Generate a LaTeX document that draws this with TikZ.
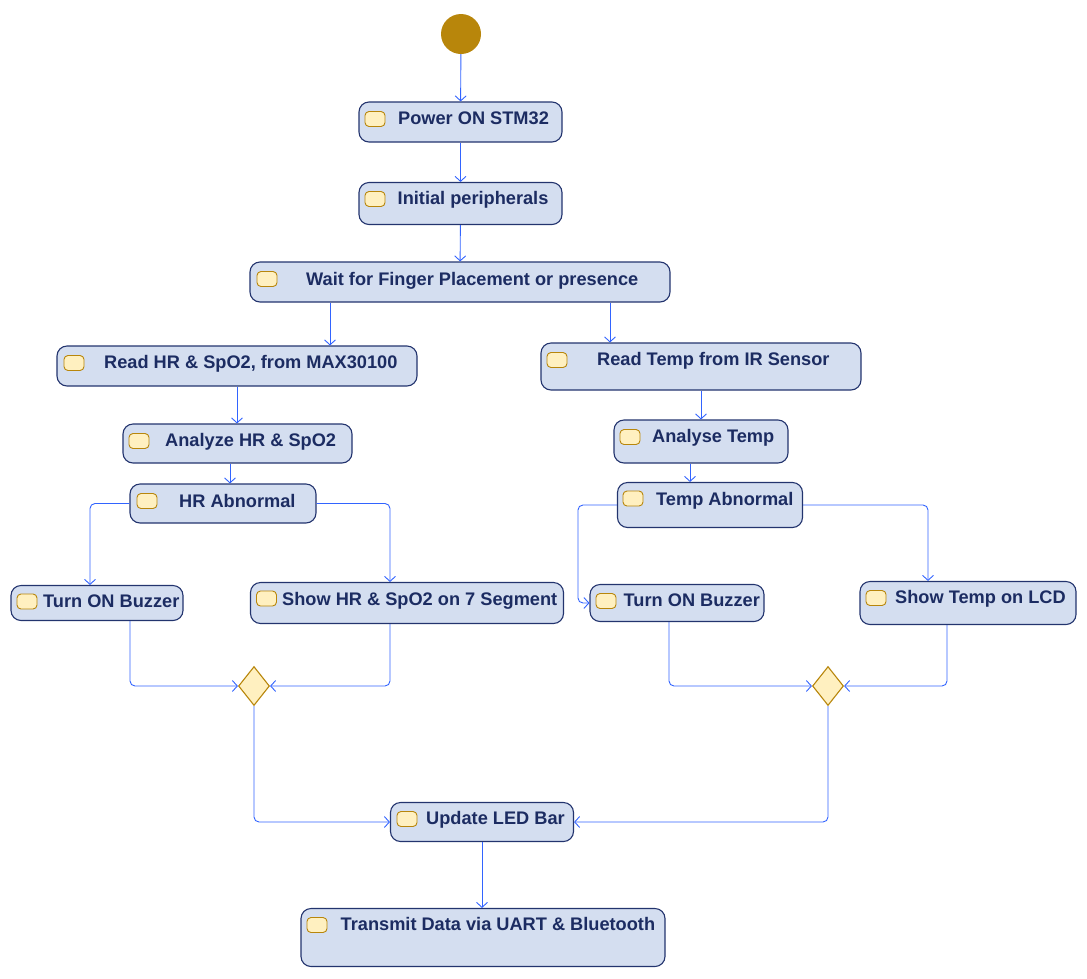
\documentclass[tikz,border=0pt]{standalone}
\usepackage{fontspec}
\setmainfont{Liberation Sans}
\usetikzlibrary{shapes.geometric,arrows.meta}
\definecolor{actfill}{RGB}{212,222,240}
\definecolor{actline}{RGB}{35,52,110}
\definecolor{acttext}{RGB}{28,44,98}
\definecolor{flowc}{RGB}{50,100,255}
\definecolor{gold}{RGB}{184,134,11}
\definecolor{iconfill}{RGB}{255,240,192}
\begin{document}
\begin{tikzpicture}[x=1pt,y=-1pt,
    act/.style={draw=actline, fill=actfill, line width=1.1pt, rounded corners=10pt, inner sep=0pt},
    icon/.style={draw=gold, fill=iconfill, line width=0.9pt, rounded corners=4pt, minimum width=20pt, minimum height=15pt, inner sep=0pt},
    txt/.style={anchor=base west, inner sep=0pt, text=acttext, font=\bfseries\fontsize{18.2}{21}\selectfont},
    merge/.style={diamond, draw=gold, fill=iconfill, line width=1.1pt, minimum width=31pt, minimum height=39pt, inner sep=0pt},
    flow/.style={draw=flowc, line width=0.9pt, rounded corners=5pt, -{Straight Barb[length=5pt,width=11pt]}}]
  \useasboundingbox (0,0) rectangle (1087,978);
  \node[circle, fill=gold, minimum size=40pt, inner sep=0pt] (start) at (461,34){};
  % activities
  \node[act, minimum width=203pt, minimum height=40pt] (power) at (460.5,122){};
  \node[icon] (power-i) at (375,119){};
  \node[txt] (power-t) at (398,124.5){Power ON STM32};
  \node[act, minimum width=203pt, minimum height=42pt] (init) at (460.5,203.5){};
  \node[icon] (init-i) at (375,199){};
  \node[txt] (init-t) at (397.5,204.5){Initial peripherals};
  \node[act, minimum width=420pt, minimum height=40pt] (wait) at (460,282){};
  \node[icon] (wait-i) at (267,279){};
  \node[txt] (wait-t) at (306,285){Wait for Finger Placement or presence};
  \node[act, minimum width=360pt, minimum height=40pt] (readhr) at (237,366){};
  \node[icon] (readhr-i) at (74,363){};
  \node[txt] (readhr-t) at (104,368){Read HR \& SpO2, from MAX30100};
  \node[act, minimum width=320pt, minimum height=47pt] (readt) at (701,366.5){};
  \node[icon] (readt-i) at (557,360){};
  \node[txt] (readt-t) at (597,365.5){Read Temp from IR Sensor};
  \node[act, minimum width=229pt, minimum height=39pt] (anahr) at (237.5,443.5){};
  \node[icon] (anahr-i) at (139,441){};
  \node[txt] (anahr-t) at (165,446.5){Analyze HR \& SpO2};
  \node[act, minimum width=174pt, minimum height=43pt] (anat) at (701,441.5){};
  \node[icon] (anat-i) at (630,437){};
  \node[txt] (anat-t) at (652,442.5){Analyse Temp};
  \node[act, minimum width=186pt, minimum height=39pt] (hrab) at (223,503.5){};
  \node[icon] (hrab-i) at (147,501){};
  \node[txt] (hrab-t) at (179,507){HR Abnormal};
  \node[act, minimum width=185pt, minimum height=45pt] (tempab) at (710,505){};
  \node[icon] (tempab-i) at (633,498.5){};
  \node[txt] (tempab-t) at (656,505){Temp Abnormal};
  \node[act, minimum width=172pt, minimum height=35pt] (buzl) at (97,603){};
  \node[icon] (buzl-i) at (27,601.5){};
  \node[txt] (buzl-t) at (43,607.5){Turn ON Buzzer};
  \node[act, minimum width=313pt, minimum height=41pt] (showhr) at (407,603){};
  \node[icon] (showhr-i) at (266.5,598.5){};
  \node[txt] (showhr-t) at (282,605){Show HR \& SpO2 on 7 Segment};
  \node[act, minimum width=174pt, minimum height=37pt] (buzr) at (677,603){};
  \node[icon] (buzr-i) at (606,601){};
  \node[txt] (buzr-t) at (623.5,606.5){Turn ON Buzzer};
  \node[act, minimum width=216pt, minimum height=43pt] (showlcd) at (968,603){};
  \node[icon] (showlcd-i) at (876,598){};
  \node[txt] (showlcd-t) at (895,603.5){Show Temp on LCD};
  \node[merge] (mergel) at (254,686){};
  \node[merge] (merger) at (828,686){};
  \node[act, minimum width=183pt, minimum height=39pt] (update) at (482,822){};
  \node[icon] (update-i) at (407,819){};
  \node[txt] (update-t) at (426,824.5){Update LED Bar};
  \node[act, minimum width=364pt, minimum height=58pt] (transmit) at (483,937.5){};
  \node[icon] (transmit-i) at (317,925){};
  \node[txt] (transmit-t) at (340.5,930.5){Transmit Data via UART \& Bluetooth};
  % control flow
  \draw[flow] (start) -- (power);
  \draw[flow] (power) -- (init);
  \draw[flow] (init) -- (wait);
  \draw[flow] (wait.south -| 330,0) -- (readhr.north -| 330,0);
  \draw[flow] (wait.south -| 610,0) -- (readt.north -| 610,0);
  \draw[flow] (readhr.south) -- (readhr.south |- anahr.north);
  \draw[flow] (readt) -- (anat);
  \draw[flow] (anahr.south -| 230,0) -- (hrab.north -| 230,0);
  \draw[flow] (anat.south -| 690,0) -- (tempab.north -| 690,0);
  \draw[flow] (hrab.west) -| (buzl.north -| 90,0);
  \draw[flow] (hrab.east) -| (showhr.north -| 390,0);
  \draw[flow] (tempab.west) -- ++(-39,0) |- (buzr.west);
  \draw[flow] (tempab.east) -| (showlcd.north -| 928,0);
  \draw[flow] (buzl.south -| 130,0) |- (mergel.west);
  \draw[flow] (showhr.south -| 390,0) |- (mergel.east);
  \draw[flow] (buzr.south -| 669,0) |- (merger.west);
  \draw[flow] (showlcd.south -| 947,0) |- (merger.east);
  \draw[flow] (mergel.south) |- (update.west);
  \draw[flow] (merger.south) |- (update.east);
  \draw[flow] (update.south) -- (update.south |- transmit.north);
\end{tikzpicture}
\end{document}
